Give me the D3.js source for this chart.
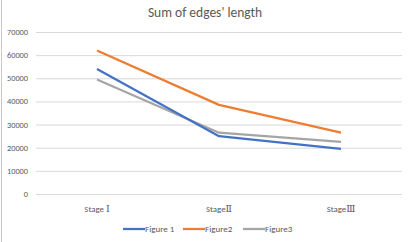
<!DOCTYPE html>
<html>
<head>
<meta charset="utf-8">
<script src="https://cdn.jsdelivr.net/npm/d3@7"></script>
<style>
  body { margin: 0; background: #fff; }
  text { font-family: Calibri, Carlito, "Liberation Sans", "DejaVu Sans", sans-serif; }
</style>
</head>
<body>
<div id="chart"></div>
<script>
// data
var stages = ['Stage Ⅰ', 'StageⅡ', 'StageⅢ']
var series = ['Figure 1', 'Figure2', 'Figure3']
var fig1 = [54000, 25000, 19500]
var fig2 = [62000, 38500, 26500]
var fig3 = [49500, 26500, 22500]
var yTicks = [0, 10000, 20000, 30000, 40000, 50000, 60000, 70000]
var colors = ['#4472c4', '#ed7d31', '#a5a5a5']

var W = 408, H = 242;
var margin = { top: 32, right: 6, bottom: 48, left: 36 },
    width = W - margin.left - margin.right,
    height = H - margin.top - margin.bottom;

var svg = d3.select("#chart").append("svg")
    .attr("width", W).attr("height", H);

// left frame edge
svg.append("line")
    .attr("x1", 1.5).attr("x2", 1.5).attr("y1", 0).attr("y2", H)
    .style("stroke", "#c8c8c8");

svg.append("text")
    .attr("x", 205).attr("y", 17)
    .attr("text-anchor", "middle")
    .style("font-size", "13.5px").style("fill", "#595959")
    .text("Sum of edges' length");

var g = svg.append("g")
    .attr("transform", "translate(" + margin.left + "," + margin.top + ")");

var x = d3.scaleBand().range([0, width]).domain(stages);
var y = d3.scaleLinear().range([height, 0]).domain([0, 70000]);

// gridlines
g.append("g")
    .call(d3.axisLeft(y).tickValues(yTicks).tickSize(-width).tickFormat(""))
    .call(a => a.select(".domain").remove())
    .selectAll("line").style("stroke", "#d9d9d9");

// y labels
g.append("g").selectAll("text")
    .data(yTicks).join("text")
    .attr("x", -8).attr("y", d => y(d) + 3)
    .attr("text-anchor", "end")
    .style("font-size", "8.3px").style("fill", "#595959")
    .text(d => d);

// x labels: roman numerals are serif glyphs in the original
var xl = g.append("g").selectAll("text")
    .data(stages).join("text")
    .attr("x", d => x(d) + x.bandwidth() / 2)
    .attr("y", height + 18)
    .attr("text-anchor", "middle")
    .style("font-size", "8.8px").style("fill", "#595959");
xl.append("tspan").text(d => d.replace(/[ⅠⅡⅢ]/, ''));
xl.append("tspan")
    .style("font-family", "'DejaVu Serif', serif")
    .style("font-size", "9.5px")
    .text(d => d.match(/[ⅠⅡⅢ]/)[0]);

var allData = [fig1, fig2, fig3];
var line = d3.line()
    .x((d, i) => x(stages[i]) + x.bandwidth() / 2)
    .y(d => y(d));

// draw grey, orange and blue so order matches picture
[2, 1, 0].forEach(function (k) {
    g.append("path")
        .datum(allData[k])
        .attr("d", line)
        .style("fill", "none")
        .style("stroke", colors[k])
        .style("stroke-width", 2.25)
        .style("stroke-linejoin", "round");
});

// legend
var legX = [123, 183, 243];
var leg = svg.append("g").selectAll("g")
    .data(series).join("g")
    .attr("transform", (d, i) => "translate(" + legX[i] + ",229)");
leg.append("line")
    .attr("x1", 0).attr("x2", 22)
    .style("stroke", (d, i) => colors[i])
    .style("stroke-width", 2.25);
leg.append("text")
    .attr("x", 22).attr("y", 3)
    .style("font-size", "9px").style("fill", "#595959")
    .text(d => d);
</script>
</body>
</html>
